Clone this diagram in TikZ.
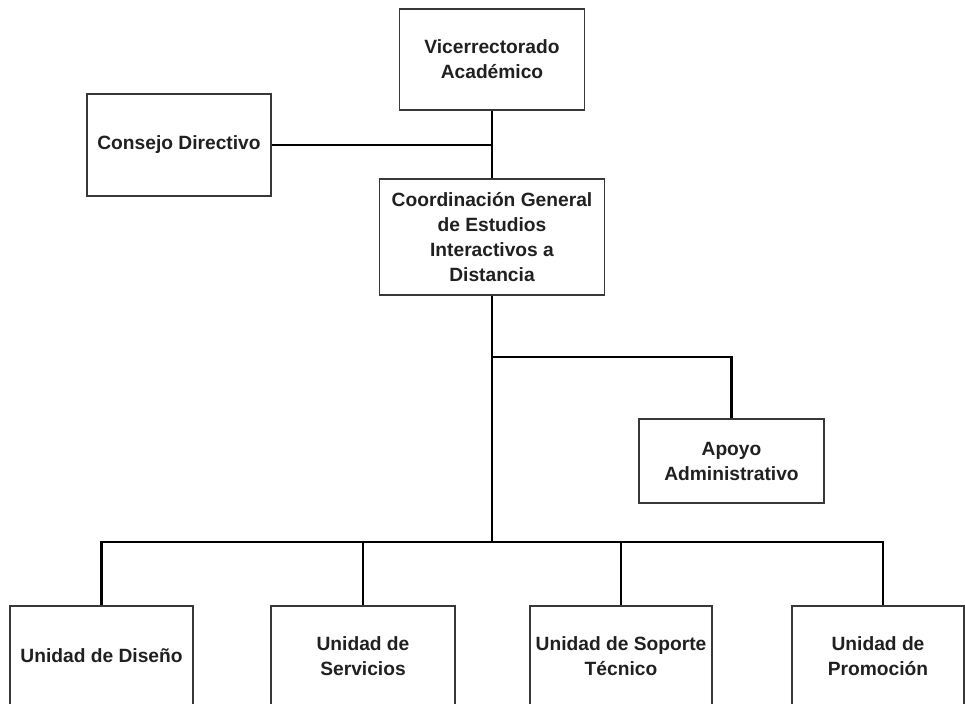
\documentclass[tikz,border=0pt]{standalone}
\usepackage{fontspec}
\setmainfont{Liberation Sans}[BoldFont={Liberation Sans Bold}]
\definecolor{txt}{HTML}{202020}
\definecolor{boxline}{HTML}{383838}
\begin{document}
\begin{tikzpicture}[x=1pt,y=-1pt,
  orgbox/.style={draw=boxline,line width=1.6pt,rectangle,align=center,inner sep=2pt,
    text=txt,font=\fontsize{19.2}{25}\selectfont\bfseries},
  link/.style={draw=black,line width=2.4pt}]
\useasboundingbox (0,0) rectangle (965,705);
\fill[white] (0,0) rectangle (965,705);
\clip (0,0) rectangle (965,703.2);
\node[orgbox,minimum width=185,minimum height=101] (vice) at (492,59.5) {Vicerrectorado\\Académico};
\node[orgbox,minimum width=184,minimum height=102] (consejo) at (179,145) {Consejo Directivo};
\node[orgbox,minimum width=225,minimum height=116] (coord) at (492,237) {Coordinación General\\de Estudios\\Interactivos a\\Distancia};
\node[orgbox,minimum width=185,minimum height=84] (apoyo) at (731.5,461) {Apoyo\\Administrativo};
\node[orgbox,minimum width=183,minimum height=100,anchor=north] (u1) at (101.5,605) {Unidad de Diseño};
\node[orgbox,minimum width=184,minimum height=100,anchor=north] (u2) at (363,605) {Unidad de\\Servicios};
\node[orgbox,minimum width=182,minimum height=100,anchor=north] (u3) at (621,605) {Unidad de Soporte\\Técnico};
\node[orgbox,minimum width=172,minimum height=100,anchor=north] (u4) at (878,605) {Unidad de\\Promoción};
\coordinate (jc) at (492,145);
\coordinate (ja) at (492,357);
\coordinate (bus) at (492,542);
\coordinate (d4) at (883,605);
\draw[link] (vice.south) -- (coord.north);
\draw[link] (consejo.east) -- (jc);
\draw[link] (coord.south) -- (bus);
\draw[link] (ja) -| (apoyo.north);
\draw[link] (u1.north) |- (bus) -| (d4);
\draw[link] (u2.north) -- (u2.north |- bus);
\draw[link] (u3.north) -- (u3.north |- bus);
\end{tikzpicture}
\end{document}
